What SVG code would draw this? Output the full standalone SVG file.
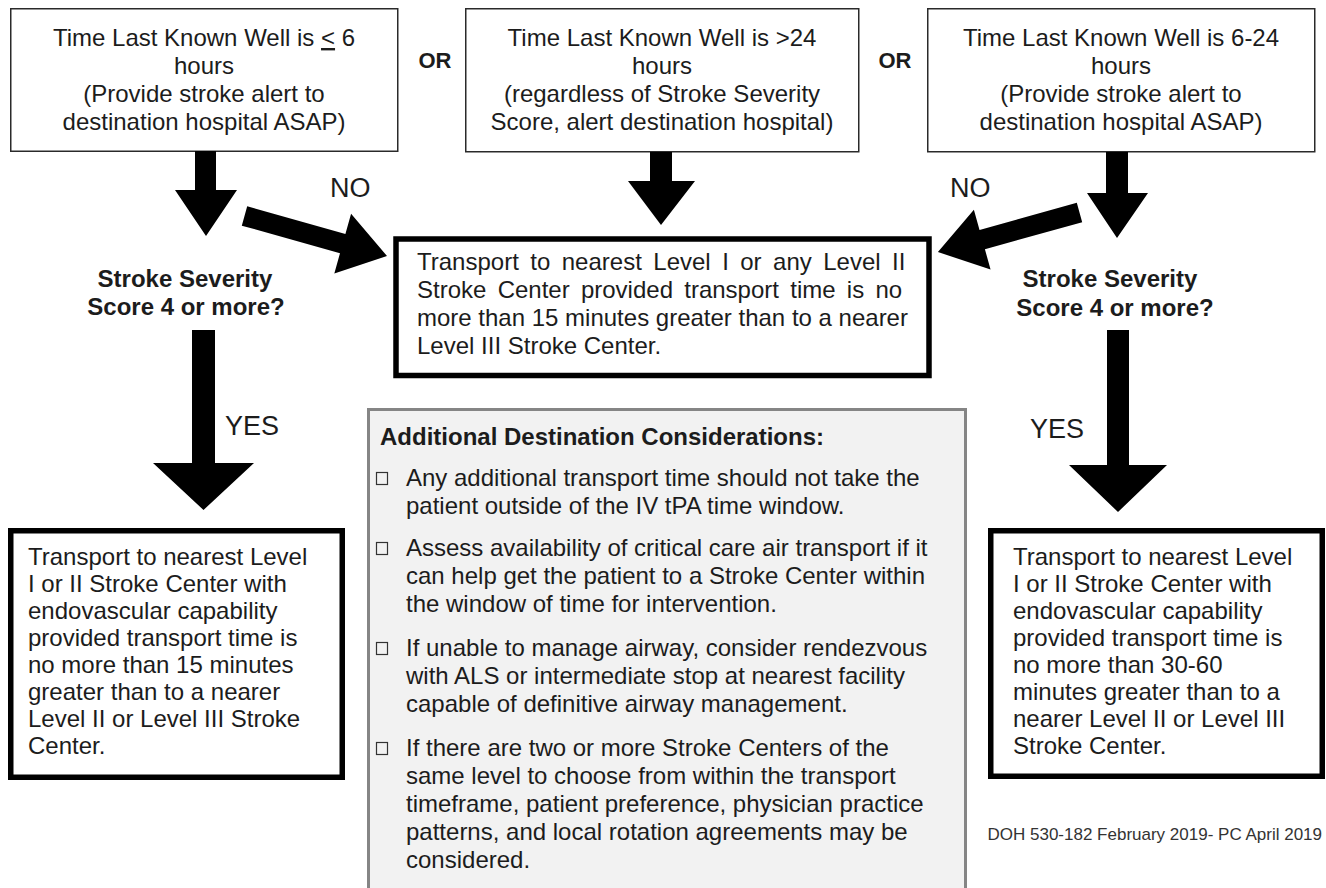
<svg xmlns="http://www.w3.org/2000/svg" width="1326" height="888" viewBox="0 0 1326 888">
<style>
text{font-family:"Liberation Sans",Arial,sans-serif;fill:#1c1c1c}
.t{font-size:24px}
.c{text-anchor:middle}
.b{font-weight:bold}
.lbl{font-size:27px}
.thin{fill:#fff;stroke:#2a2a2a;stroke-width:1.5}
.thick{fill:#fff;stroke:#000;stroke-width:5.5}
.gray{fill:#f2f2f2;stroke:#858585;stroke-width:3}
.cb{fill:none;stroke:#333;stroke-width:1.2}
.arr{fill:#000}
.foot{font-size:17px;fill:#333;text-anchor:end}
</style>
<rect width="1326" height="888" fill="#fff"/>
<g id="box-lkw-6">
<rect class="thin" x="10.75" y="8.75" width="387" height="142.5"/>
<text class="t c" x="204" y="46">Time Last Known Well is <tspan text-decoration="underline">&lt;</tspan> 6</text>
<text class="t c" x="204" y="74">hours</text>
<text class="t c" x="204" y="102">(Provide stroke alert to</text>
<text class="t c" x="204" y="130">destination hospital ASAP)</text>
</g>
<g id="box-lkw-24">
<rect class="thin" x="465.75" y="8.75" width="393" height="143"/>
<text class="t c" x="662" y="46">Time Last Known Well is &gt;24</text>
<text class="t c" x="662" y="74">hours</text>
<text class="t c" x="662" y="102">(regardless of Stroke Severity</text>
<text class="t c" x="662" y="130">Score, alert destination hospital)</text>
</g>
<g id="box-lkw-6-24">
<rect class="thin" x="927.75" y="8.75" width="387" height="143"/>
<text class="t c" x="1121" y="46">Time Last Known Well is 6-24</text>
<text class="t c" x="1121" y="74">hours</text>
<text class="t c" x="1121" y="102">(Provide stroke alert to</text>
<text class="t c" x="1121" y="130">destination hospital ASAP)</text>
</g>
<g id="or-labels">
<text class="b c" x="435" y="68" font-size="22">OR</text>
<text class="b c" x="895" y="68" font-size="22">OR</text>
</g>
<g id="severity-left">
<text class="t b c" x="185" y="287">Stroke Severity</text>
<text class="t b c" x="186" y="315">Score 4 or more?</text>
</g>
<g id="severity-right">
<text class="t b c" x="1110" y="287">Stroke Severity</text>
<text class="t b c" x="1115" y="316">Score 4 or more?</text>
</g>
<g id="box-level-any">
<rect class="thick" x="396" y="239" width="533" height="136.5"/>
<text class="t" x="417" y="270" word-spacing="4.8">Transport to nearest Level I or any Level II</text>
<text class="t" x="417" y="298" word-spacing="4.6">Stroke Center provided transport time is no</text>
<text class="t" x="417" y="326">more than 15 minutes greater than to a nearer</text>
<text class="t" x="417" y="354">Level III Stroke Center.</text>
</g>
<g id="box-endo-15">
<rect class="thick" x="10.75" y="530.75" width="331.5" height="246.5"/>
<text class="t" x="28" y="565">Transport to nearest Level</text>
<text class="t" x="28" y="592">I or II Stroke Center with</text>
<text class="t" x="28" y="619">endovascular capability</text>
<text class="t" x="28" y="646">provided transport time is</text>
<text class="t" x="28" y="673">no more than 15 minutes</text>
<text class="t" x="28" y="700">greater than to a nearer</text>
<text class="t" x="28" y="727">Level II or Level III Stroke</text>
<text class="t" x="28" y="754">Center.</text>
</g>
<g id="box-endo-30-60">
<rect class="thick" x="990.75" y="530.75" width="331.5" height="245.5"/>
<text class="t" x="1013" y="565">Transport to nearest Level</text>
<text class="t" x="1013" y="592">I or II Stroke Center with</text>
<text class="t" x="1013" y="619">endovascular capability</text>
<text class="t" x="1013" y="646">provided transport time is</text>
<text class="t" x="1013" y="673">no more than 30-60</text>
<text class="t" x="1013" y="700">minutes greater than to a</text>
<text class="t" x="1013" y="727">nearer Level II or Level III</text>
<text class="t" x="1013" y="754">Stroke Center.</text>
</g>
<g id="considerations">
<rect class="gray" x="368.5" y="409.5" width="597" height="500"/>
<text class="t b" x="380" y="445">Additional Destination Considerations:</text>
<rect class="cb" x="376.5" y="472.5" width="11" height="12"/>
<text class="t" x="406" y="486">Any additional transport time should not take the</text>
<text class="t" x="406" y="514">patient outside of the IV tPA time window.</text>
<rect class="cb" x="376.5" y="542.5" width="11" height="12"/>
<text class="t" x="406" y="556">Assess availability of critical care air transport if it</text>
<text class="t" x="406" y="584">can help get the patient to a Stroke Center within</text>
<text class="t" x="406" y="612">the window of time for intervention.</text>
<rect class="cb" x="376.5" y="642.5" width="11" height="12"/>
<text class="t" x="406" y="656">If unable to manage airway, consider rendezvous</text>
<text class="t" x="406" y="684">with ALS or intermediate stop at nearest facility</text>
<text class="t" x="406" y="712">capable of definitive airway management.</text>
<rect class="cb" x="376.5" y="742.5" width="11" height="12"/>
<text class="t" x="406" y="756">If there are two or more Stroke Centers of the</text>
<text class="t" x="406" y="784">same level to choose from within the transport</text>
<text class="t" x="406" y="812">timeframe, patient preference, physician practice</text>
<text class="t" x="406" y="840">patterns, and local rotation agreements may be</text>
<text class="t" x="406" y="868">considered.</text>
</g>
<g id="connectors">
<polygon class="arr" points="195,151 216,151 216,190 237,190 206,236 175,190 195,190"/>
<polygon class="arr" points="650,152 672,152 672,181 695,181 661,225 628,181 650,181"/>
<polygon class="arr" points="1106,152 1128,152 1128,193 1148,193 1117,238 1087,193 1106,193"/>
<polygon class="arr" transform="translate(244.5,216) rotate(15.68)" points="0,-10 102,-10 102,-31 148,0 102,31 102,10 0,10"/>
<polygon class="arr" transform="translate(1079.5,212.5) rotate(164.4)" points="0,-10 101,-10 101,-31 147,0 101,31 101,10 0,10"/>
<polygon class="arr" points="192,330 215,330 215,463 254,463 203.5,510 153,463 192,463"/>
<polygon class="arr" points="1107,330 1129,330 1129,465 1167,465 1118,512 1069,465 1107,465"/>
<text class="lbl" x="330" y="197">NO</text>
<text class="lbl" x="950" y="197">NO</text>
<text class="lbl" x="225" y="435">YES</text>
<text class="lbl" x="1030" y="438">YES</text>
</g>
<text class="foot" x="1322" y="840">DOH 530-182 February 2019- PC April 2019</text>
</svg>
